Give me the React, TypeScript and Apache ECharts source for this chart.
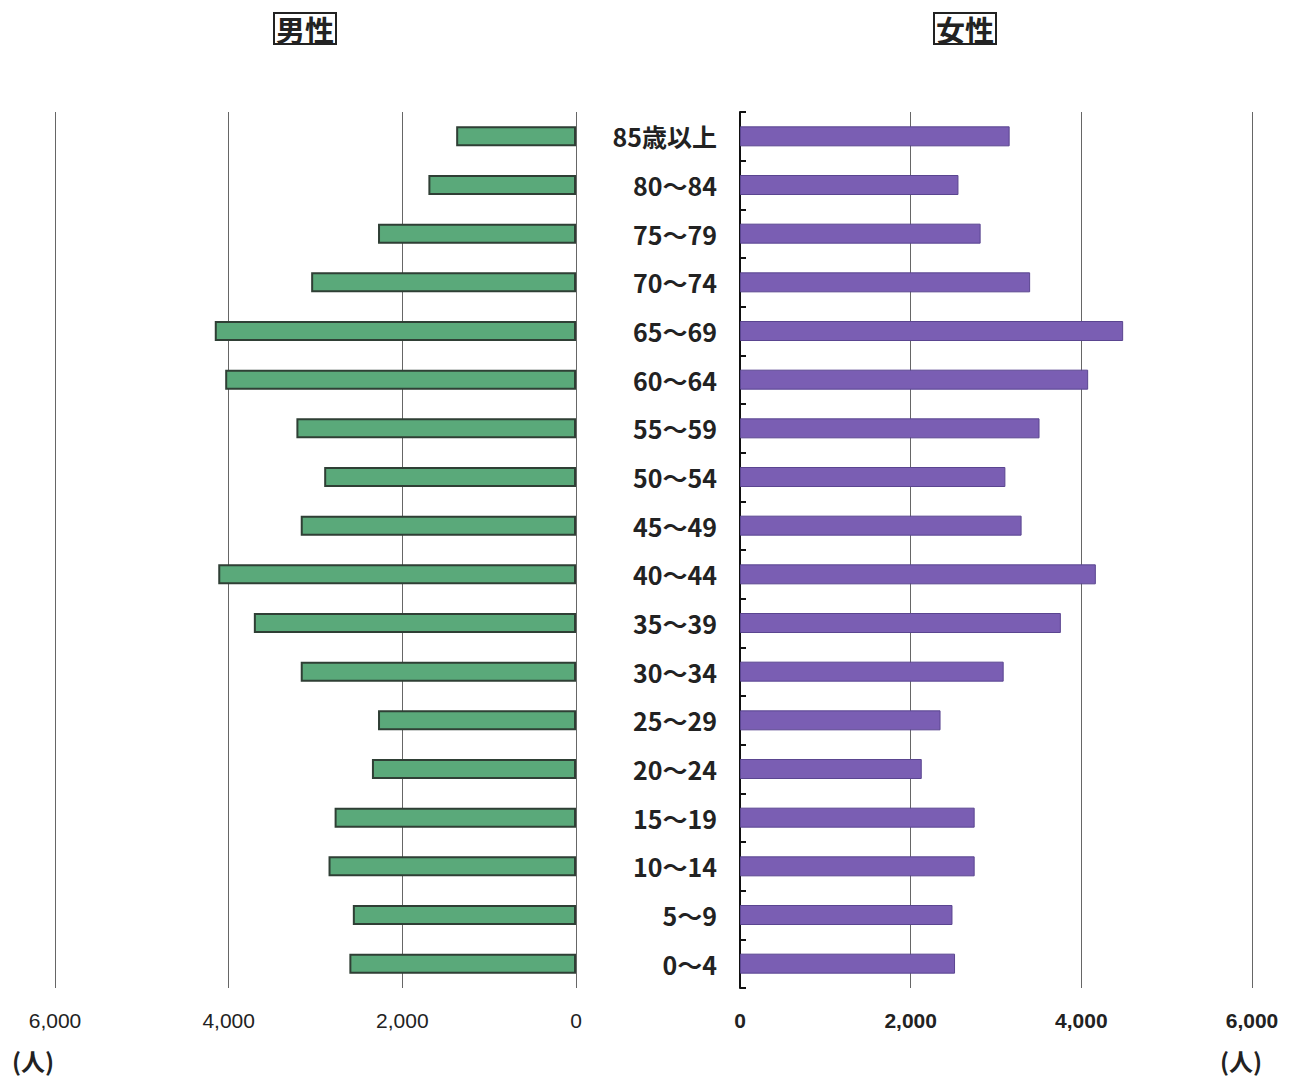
import React, { useEffect, useRef } from "react";
import * as echarts from "echarts";

const categories = [
  "85歳以上", "80～84", "75～79", "70～74", "65～69", "60～64", "55～59", "50～54", "45～49",
  "40～44", "35～39", "30～34", "25～29", "20～24", "15～19", "10～14", "5～9", "0～4",
];
const maleValues = [1380, 1700, 2280, 3050, 4160, 4040, 3220, 2900, 3170, 4120, 3710, 3170, 2280, 2350, 2780, 2850, 2570, 2610];
const femaleValues = [3160, 2560, 2820, 3400, 4490, 4080, 3510, 3110, 3300, 4170, 3760, 3090, 2350, 2130, 2750, 2750, 2490, 2520];
const axisMax = 6000;
const axisInterval = 2000;
const maleTitle = "男性";
const femaleTitle = "女性";
const unitLabel = "(人)";

const fmt = (v: number) => v.toLocaleString("en-US");

export default function App() {
  const ref = useRef<HTMLDivElement>(null);
  useEffect(() => {
    if (!ref.current) return;
    const chart = echarts.init(ref.current, null, { renderer: "svg" });
    const catFont = "'Noto Sans CJK JP', sans-serif";
    chart.setOption({
      animation: false,
      backgroundColor: "#ffffff",
      grid: [
        { left: 55, width: 521, top: 112, bottom: 95, containLabel: false },
        { left: 740, width: 512, top: 112, bottom: 95, containLabel: false },
      ],
      xAxis: [
        {
          gridIndex: 0, type: "value", min: 0, max: axisMax, interval: axisInterval, inverse: true,
          axisLine: { show: false }, axisTick: { show: false },
          splitLine: { show: true, lineStyle: { color: "#666", width: 1 } },
          axisLabel: { formatter: fmt, margin: 22, fontSize: 21, color: "#222", fontFamily: "'Liberation Sans', Arial, sans-serif" },
        },
        {
          gridIndex: 1, type: "value", min: 0, max: axisMax, interval: axisInterval,
          axisLine: { show: false }, axisTick: { show: false },
          splitLine: { show: true, lineStyle: { color: "#666", width: 1 } },
          axisLabel: { formatter: fmt, margin: 22, fontSize: 21, fontWeight: "bold", color: "#222", fontFamily: "'Liberation Sans', Arial, sans-serif" },
        },
      ],
      yAxis: [
        {
          gridIndex: 0, type: "category", data: categories, inverse: true,
          axisLine: { show: false }, axisTick: { show: false }, axisLabel: { show: false },
        },
        {
          gridIndex: 1, type: "category", data: categories, inverse: true, position: "left",
          axisLine: { show: true, lineStyle: { color: "#111", width: 2 } },
          axisTick: { show: true, inside: true, length: 6, lineStyle: { color: "#111", width: 2 } },
          axisLabel: { margin: 23, fontSize: 25, fontWeight: "bold", color: "#222", fontFamily: catFont },
        },
      ],
      series: [
        {
          type: "bar", xAxisIndex: 0, yAxisIndex: 0, data: maleValues, barWidth: 20,
          itemStyle: { color: "#5aa97a", borderColor: "#2f3f35", borderWidth: 2 },
        },
        {
          type: "bar", xAxisIndex: 1, yAxisIndex: 1, data: femaleValues, barWidth: 20,
          itemStyle: { color: "#7a5eb3", borderColor: "#5a4590", borderWidth: 1 },
        },
      ],
      graphic: [
        {
          type: "text", left: 273, top: 12,
          style: {
            text: maleTitle, font: "bold 29px 'Noto Sans CJK JP', sans-serif", fill: "#222",
            borderColor: "#222", borderWidth: 2, padding: [1, 2, 1, 2],
          },
        },
        {
          type: "text", left: 933, top: 12,
          style: {
            text: femaleTitle, font: "bold 29px 'Noto Sans CJK JP', sans-serif", fill: "#222",
            borderColor: "#222", borderWidth: 2, padding: [1, 2, 1, 2],
          },
        },
        {
          type: "text", left: 12, top: 1048,
          style: { text: unitLabel, font: "bold 24px 'Noto Sans CJK JP', sans-serif", fill: "#222" },
        },
        {
          type: "text", left: 1220, top: 1048,
          style: { text: unitLabel, font: "bold 24px 'Noto Sans CJK JP', sans-serif", fill: "#222" },
        },
      ],
    });
    return () => chart.dispose();
  }, []);
  return <div ref={ref} style={{ position: "fixed", left: 0, top: 0, width: 1301, height: 1083 }} />;
}
